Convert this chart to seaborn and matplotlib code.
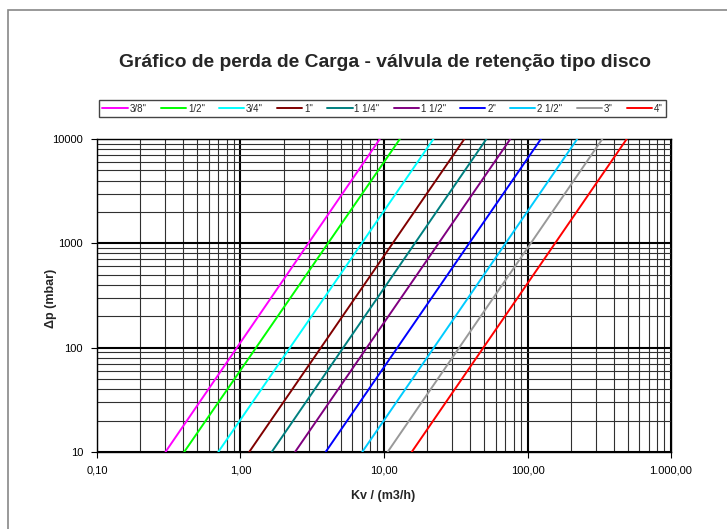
"""
Perda de carga em válvulas de retenção tipo disco, por diâmetro nominal.
Cada curva é uma reta em escala log-log: lida nos extremos do gráfico
(Δp = 10 mbar e Δp = 10000 mbar).
"""

import matplotlib.pyplot as plt
import matplotlib.ticker as mticker
import pandas as pd
import seaborn as sns
from matplotlib.patches import Rectangle

# valores
sizes = ['3/8"', '1/2"', '3/4"', '1"', '1 1/4"', '1 1/2"', '2"', '2 1/2"', '3"', '4"']
kv_at_10mbar = [0.30, 0.405, 0.70, 1.15, 1.65, 2.40, 3.92, 7.05, 10.6, 15.6]
kv_at_10000mbar = [9.35, 12.9, 22.1, 36.3, 51.7, 75.9, 124.0, 222.0, 332.0, 491.0]
dp_limits = [10, 10000]
colors = ["#ff00ff", "#00ff00", "#00ffff", "#800000", "#008080",
          "#800080", "#0000ff", "#00ccff", "#999999", "#ff0000"]

x_ticks = [0.1, 1, 10, 100, 1000]
x_tick_labels = ["0,10", "1,00", "10,00", "100,00", "1.000,00"]
y_ticks = [10, 100, 1000, 10000]
y_tick_labels = ["10", "100", "1000", "10000"]

rows = []
for size, q_lo, q_hi in zip(sizes, kv_at_10mbar, kv_at_10000mbar):
    rows.append({"size": size, "kv": q_lo, "dp": dp_limits[0]})
    rows.append({"size": size, "kv": q_hi, "dp": dp_limits[1]})
df = pd.DataFrame(rows)

sns.set_style("white")
plt.rcParams["font.family"] = ["Liberation Sans", "DejaVu Sans"]

fig = plt.figure(figsize=(7.27, 5.29), dpi=100)
ax = fig.add_axes([0.1334, 0.1456, 0.7896, 0.5916])

# moldura cinza da área do gráfico
fig.patches.append(Rectangle((0.011, -0.1), 1.2, 1.081, transform=fig.transFigure,
                             fill=False, edgecolor="#888888", linewidth=1.2))

sns.lineplot(data=df, x="kv", y="dp", hue="size", hue_order=sizes,
             palette=dict(zip(sizes, colors)), linewidth=1.4, ax=ax, zorder=3)

ax.set_xscale("log")
ax.set_yscale("log")
ax.set_xlim(0.1, 1000)
ax.set_ylim(10, 10000)

ax.xaxis.set_major_locator(mticker.FixedLocator(x_ticks))
ax.yaxis.set_major_locator(mticker.FixedLocator(y_ticks))
ax.xaxis.set_minor_locator(mticker.LogLocator(base=10, subs=range(2, 10)))
ax.yaxis.set_minor_locator(mticker.LogLocator(base=10, subs=range(2, 10)))
ax.set_xticklabels(x_tick_labels)
ax.set_yticklabels(y_tick_labels)
ax.xaxis.set_minor_formatter(mticker.NullFormatter())
ax.yaxis.set_minor_formatter(mticker.NullFormatter())

ax.grid(which="major", color="black", linewidth=1.5, zorder=1)
ax.grid(which="minor", color="#303030", linewidth=0.8, zorder=1)
ax.tick_params(which="major", direction="out", length=4, width=0.8,
               labelsize=8, colors="black", pad=6, bottom=True, left=True)
ax.tick_params(which="minor", length=0)
for spine in ax.spines.values():
    spine.set_color("black")
    spine.set_linewidth(1)

ax.set_xlabel("Kv / (m3/h)", fontsize=9, fontweight="bold")
ax.set_ylabel("Δp (mbar)", fontsize=9, fontweight="bold")
ax.xaxis.set_label_coords(0.498, -0.121)
ax.yaxis.set_label_coords(-0.07, 0.49)

fig.text(0.53, 0.882, "Gráfico de perda de Carga - válvula de retenção tipo disco",
         ha="center", va="center", fontsize=13.9, fontweight="bold")

handles, labels = ax.get_legend_handles_labels()
ax.legend(handles, labels, ncol=10, loc="lower left", mode="expand",
          bbox_to_anchor=(-0.005, 1.055, 1.005, 0.06), fontsize=7,
          frameon=True, fancybox=False, edgecolor="#444444", handlelength=2.6,
          handletextpad=0.2, columnspacing=0.8, borderpad=0.35, framealpha=1)

fig.savefig("out.png", dpi=100, facecolor="white")
